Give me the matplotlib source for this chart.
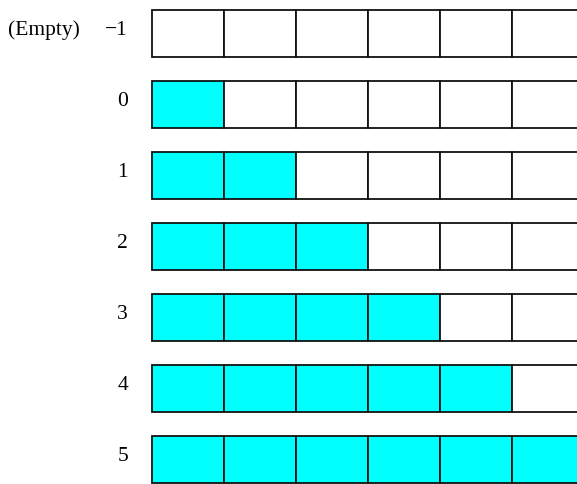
import matplotlib.pyplot as plt
from matplotlib.patches import Rectangle

# row states: number of filled cells = level + 1
levels = [-1, 0, 1, 2, 3, 4, 5]
row_labels = ["\u22121", "0", "1", "2", "3", "4", "5"]
n_cells = 6
fill_color = "#00ffff"

fig = plt.figure(figsize=(5.77, 4.84), dpi=100)
ax = fig.add_axes([0, 0, 1, 1])
ax.set_xlim(0, 577)
ax.set_ylim(484, 0)
ax.axis("off")

x0, cell_w, cell_h = 152, 72, 47
y0, row_step = 10, 71

for r, lvl in enumerate(levels):
    y = y0 + r * row_step
    for c in range(n_cells):
        filled = c <= lvl
        ax.add_patch(Rectangle((x0 + c * cell_w, y), cell_w, cell_h,
                               facecolor=fill_color if filled else "white",
                               edgecolor="#111111", linewidth=1.3))
    ax.text(128, y + cell_h / 2 - 3, row_labels[r], ha="right", va="center",
            family="Liberation Serif", fontsize=15.5)

ax.text(8, y0 + cell_h / 2 - 3, "(Empty)", ha="left", va="center",
        family="Liberation Serif", fontsize=15.5)

fig.savefig("out.png", dpi=100)
